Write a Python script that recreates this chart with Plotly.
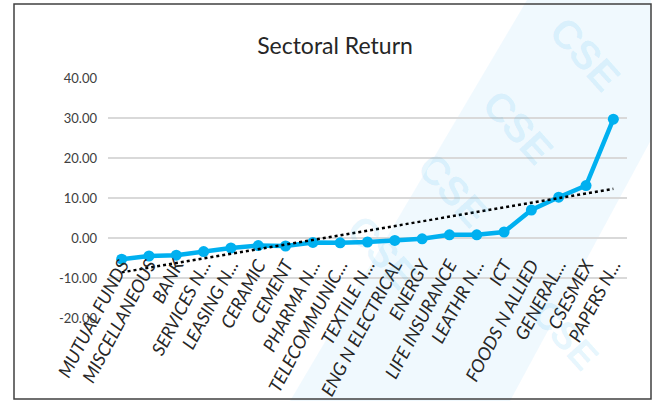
import numpy as np
import plotly.graph_objects as go

categories = ["MUTUAL FUNDS", "MISCELLANEOUS", "BANK", "SERVICES N...", "LEASING N...",
              "CERAMIC", "CEMENT", "PHARMA N...", "TELECOMMUNIC...", "TEXTILE N...",
              "ENG N ELECTRICAL", "ENERGY", "LIFE INSURANCE", "LEATHR N...", "ICT",
              "FOODS N ALLIED", "GENERAL...", "CSESMEX", "PAPERS N..."]
returns = [-5.3, -4.5, -4.3, -3.4, -2.5, -1.9, -2.0, -1.1, -1.2, -1.0,
           -0.6, -0.2, 0.8, 0.8, 1.5, 7.0, 10.2, 13.1, 29.7]
y_tickvals = [-20, -10, 0, 10, 20, 30, 40]
y_ticktext = ["-20.00", "-10.00", "0.00", "10.00", "20.00", "30.00", "40.00"]
watermark_text = "CSE"

# linear trendline (Excel-style) from the series
idx = np.arange(len(returns))
slope, intercept = np.polyfit(idx, returns, 1)
trend = slope * idx + intercept

W, H = 654, 401
L, R, T, B = 108, 627, 78, 318


def px(x):
    return (x - L) / (R - L)


def py(y):
    return (B - y) / (B - T)


FONT = "Lato, Open Sans, sans-serif"

fig = go.Figure()
fig.add_trace(go.Scatter(
    x=categories, y=returns, mode="lines+markers",
    line=dict(color="#00B0F0", width=4.5),
    marker=dict(color="#00B0F0", size=11, symbol="circle"),
    showlegend=False, hoverinfo="x+y", cliponaxis=False))
fig.add_trace(go.Scatter(
    x=categories, y=trend, mode="lines",
    line=dict(color="#000000", width=2.5, dash="dot"),
    showlegend=False, hoverinfo="skip"))

shapes = []
# watermark band
band = [(290, 401), (527, 0), (651, 0), (651, 140), (510, 401)]
path = "M " + " L ".join(f"{px(a):.4f},{py(b):.4f}" for a, b in band) + " Z"
shapes.append(dict(type="path", path=path, xref="paper", yref="paper",
                   fillcolor="rgba(0,150,230,0.06)", line=dict(width=0), layer="below"))
# chart border
shapes.append(dict(type="rect", xref="paper", yref="paper",
                   x0=px(14), x1=px(651), y0=py(399), y1=py(4),
                   line=dict(color="#404040", width=1.5), layer="above"))

annotations = []
for cx, cy, sz in [(585, 54, 40), (518, 127, 40), (453, 190, 40), (382, 252, 40),
                   (565, 335, 38)]:
    annotations.append(dict(text=f"<b>{watermark_text}</b>", x=px(cx), y=py(cy),
                            xref="paper", yref="paper", showarrow=False,
                            textangle=48, font=dict(family="Liberation Sans, Arial", size=sz,
                                                    color="rgba(0,160,235,0.11)"),
                            xanchor="center", yanchor="middle"))

fig.update_layout(
    width=W, height=H,
    margin=dict(l=L, r=W - R, t=T, b=H - B, autoexpand=False),
    paper_bgcolor="white", plot_bgcolor="rgba(0,0,0,0)",
    title=dict(text="Sectoral Return", x=335 / W, xanchor="center",
               y=1 - 46 / H, yanchor="middle", yref="container", xref="container",
               font=dict(family=FONT, size=23, color="#262626")),
    shapes=shapes, annotations=annotations,
    xaxis=dict(type="category", range=[-0.5, len(categories) - 0.5],
               anchor="free", position=py(250), showgrid=False, showline=False,
               zeroline=False, ticks="", tickangle=-62, automargin=False,
               tickfont=dict(family=FONT, size=18, color="#262626", style="italic")),
    yaxis=dict(range=[-20, 40], tickvals=y_tickvals, ticktext=y_ticktext,
               showgrid=True, gridcolor="#D9D9D9", gridwidth=1.5, zeroline=False,
               showline=False, ticks="", ticklabelstandoff=10, automargin=False,
               tickfont=dict(family=FONT, size=13, color="#404040")),
)

fig.write_html("out.html", config={"displayModeBar": False},
               post_script="document.body.style.margin='0';")
